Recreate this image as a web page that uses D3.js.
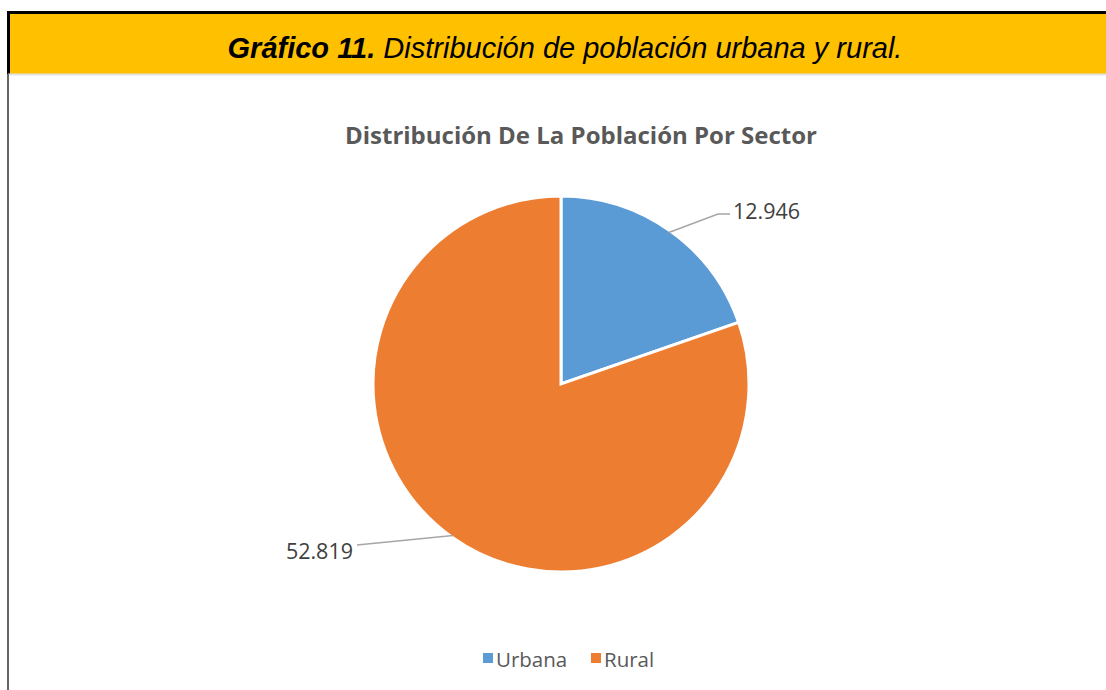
<html>
<script src="https://d3js.org/d3.v7.min.js"></script>
<style>
  body { margin: 0; background: #fff; }
</style>
<body>
<div id="chart_area"></div>
</body>
<script>
var categories = ["Urbana", "Rural"];
var values = [12946, 52819];
var labels = ["12.946", "52.819"];
var colors = {"Urbana": "#5B9BD5", "Rural": "#ED7D31"};

var W = 1106, H = 690;
var svg = d3.select("#chart_area").append("svg").attr("width", W).attr("height", H);

// header band
svg.append("rect").attr("x", 8).attr("y", 12).attr("width", W - 8).attr("height", 62).attr("fill", "#FFC000");
svg.append("line").attr("x1", 7).attr("x2", W).attr("y1", 12.5).attr("y2", 12.5).attr("stroke", "#000").attr("stroke-width", 3);
svg.append("line").attr("x1", 8.5).attr("x2", 8.5).attr("y1", 11).attr("y2", 74).attr("stroke", "#000").attr("stroke-width", 3);
svg.append("line").attr("x1", 8).attr("x2", W).attr("y1", 74.5).attr("y2", 74.5).attr("stroke", "#e3e3e3").attr("stroke-width", 2);
svg.append("line").attr("x1", 8).attr("x2", 8).attr("y1", 74).attr("y2", H).attr("stroke", "#666").attr("stroke-width", 2);

var head = svg.append("text").attr("x", 565).attr("y", 58).attr("text-anchor", "middle")
  .style("font-family", "Liberation Sans, Arial").style("font-size", "29px").style("font-style", "italic");
head.append("tspan").style("font-weight", "bold").text("Gráfico 11.");
head.append("tspan").text(" Distribución de población urbana y rural.");

svg.append("text").attr("x", 581).attr("y", 144).attr("text-anchor", "middle")
  .style("font-family", "Open Sans, Noto Sans").style("font-size", "24px").style("font-weight", "bold")
  .attr("fill", "#595959").text("Distribución De La Población Por Sector");

var cx = 561, cy = 384, r = 188;
var pie = d3.pie().sort(null).value(function(d) { return d.v; });
var arcs = pie(categories.map(function(c, i) { return {c: c, v: values[i], l: labels[i]}; }));
var arc = d3.arc().innerRadius(0).outerRadius(r);

var g = svg.append("g").attr("transform", "translate(" + cx + "," + cy + ")");
g.selectAll("path").data(arcs).enter().append("path")
  .attr("d", arc)
  .attr("fill", function(d) { return colors[d.data.c]; })
  .attr("stroke", "#fff").attr("stroke-width", 3);

// leader lines and labels
var lab = [
  {elbow: [718, 214], end: [730, 214], tx: 733, ty: 219, ta: "start"},
  {elbow: [357, 545], end: [357, 545], tx: 353, ty: 559, ta: "end"}
];
arcs.forEach(function(d, i) {
  var a = (d.startAngle + d.endAngle) / 2;
  var p = [cx + Math.sin(a) * (r - 2), cy - Math.cos(a) * (r - 2)];
  var L = lab[i];
  svg.append("polyline")
    .attr("points", [p, L.elbow, L.end].map(function(q) { return q.join(","); }).join(" "))
    .attr("fill", "none").attr("stroke", "#a6a6a6").attr("stroke-width", 1.5);
  svg.append("text").attr("x", L.tx).attr("y", L.ty).attr("text-anchor", L.ta)
    .style("font-family", "Open Sans, Noto Sans").style("font-size", "21.5px")
    .attr("fill", "#404040").text(d.data.l);
});

// legend
var lx = [483, 591];
categories.forEach(function(c, i) {
  svg.append("rect").attr("x", lx[i]).attr("y", 653).attr("width", 10).attr("height", 10).attr("fill", colors[c]);
  svg.append("text").attr("x", lx[i] + 13).attr("y", 667)
    .style("font-family", "Open Sans, Noto Sans").style("font-size", "20.5px")
    .attr("fill", "#595959").text(c);
});
</script>
</html>
